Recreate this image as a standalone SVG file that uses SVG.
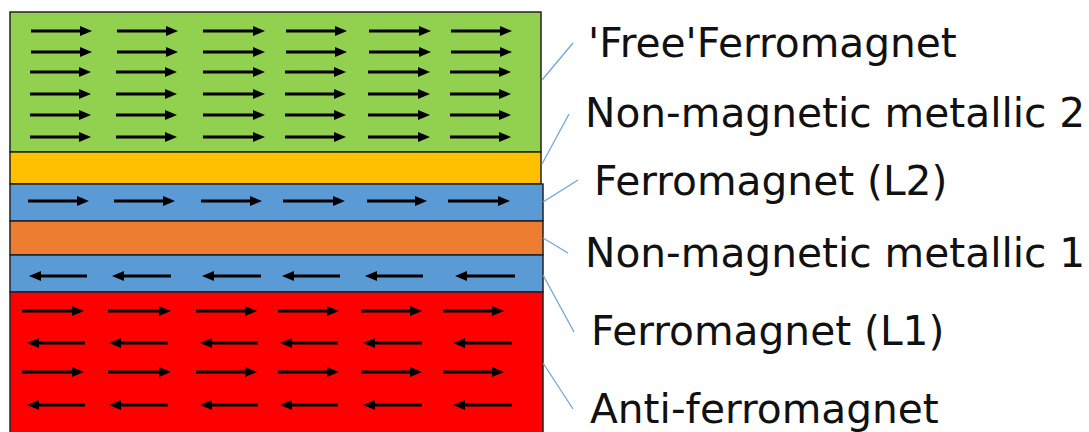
<svg xmlns="http://www.w3.org/2000/svg" width="1089" height="432" viewBox="0 0 1089 432">
<style>
.layer{stroke:#222;stroke-width:1.5}
.ar{stroke:#000;stroke-width:3;marker-end:url(#head)}
.lbl{font-family:"DejaVu Sans","Liberation Sans",sans-serif;font-size:40.7px;fill:#111}
.lead{stroke:#6FA6DC;stroke-width:1.3;fill:none}
</style>
<defs>
<marker id="head" markerUnits="userSpaceOnUse" markerWidth="13" markerHeight="11" viewBox="0 0 12 11" refX="3" refY="5.5" orient="auto">
<path d="M0,0.5 L12,5.5 L0,10.5 z" fill="#000"/>
</marker>
</defs>
<rect width="1089" height="432" fill="#fff"/>

<g id="free-ferromagnet">
<rect class="layer" x="10" y="12" width="531" height="140" fill="#92D050"/>
<g>
<line class="ar" x1="31" y1="31" x2="83" y2="31"/><line class="ar" x1="117" y1="31" x2="169" y2="31"/><line class="ar" x1="203" y1="31" x2="256" y2="31"/><line class="ar" x1="286" y1="31" x2="338" y2="31"/><line class="ar" x1="369" y1="31" x2="422" y2="31"/><line class="ar" x1="451" y1="31" x2="503" y2="31"/>
<line class="ar" x1="31" y1="52" x2="83" y2="52"/><line class="ar" x1="117" y1="52" x2="169" y2="52"/><line class="ar" x1="203" y1="52" x2="256" y2="52"/><line class="ar" x1="286" y1="52" x2="338" y2="52"/><line class="ar" x1="369" y1="52" x2="422" y2="52"/><line class="ar" x1="451" y1="52" x2="503" y2="52"/>
<line class="ar" x1="30" y1="72" x2="82" y2="72"/><line class="ar" x1="116" y1="72" x2="168" y2="72"/><line class="ar" x1="203" y1="72" x2="256" y2="72"/><line class="ar" x1="285" y1="72" x2="337" y2="72"/><line class="ar" x1="368" y1="72" x2="421" y2="72"/><line class="ar" x1="450" y1="72" x2="502" y2="72"/>
<line class="ar" x1="30" y1="94" x2="82" y2="94"/><line class="ar" x1="116" y1="94" x2="168" y2="94"/><line class="ar" x1="203" y1="94" x2="256" y2="94"/><line class="ar" x1="285" y1="94" x2="337" y2="94"/><line class="ar" x1="368" y1="94" x2="421" y2="94"/><line class="ar" x1="450" y1="94" x2="502" y2="94"/>
<line class="ar" x1="30" y1="115" x2="82" y2="115"/><line class="ar" x1="116" y1="115" x2="168" y2="115"/><line class="ar" x1="203" y1="115" x2="256" y2="115"/><line class="ar" x1="285" y1="115" x2="337" y2="115"/><line class="ar" x1="368" y1="115" x2="421" y2="115"/><line class="ar" x1="450" y1="115" x2="502" y2="115"/>
<line class="ar" x1="30" y1="137" x2="82" y2="137"/><line class="ar" x1="116" y1="137" x2="168" y2="137"/><line class="ar" x1="203" y1="137" x2="256" y2="137"/><line class="ar" x1="285" y1="137" x2="337" y2="137"/><line class="ar" x1="368" y1="137" x2="421" y2="137"/><line class="ar" x1="450" y1="137" x2="502" y2="137"/>
</g>
<text class="lbl" x="588" y="57">'Free'Ferromagnet</text>
</g>

<g id="non-magnetic-2">
<rect class="layer" x="10" y="152" width="531" height="32" fill="#FFC000"/>
<text class="lbl" x="585" y="127">Non-magnetic metallic 2</text>
</g>

<g id="ferromagnet-l2">
<rect class="layer" x="10" y="184" width="533" height="37" fill="#5B9BD5"/>
<line class="ar" x1="28" y1="201" x2="80" y2="201"/><line class="ar" x1="114" y1="201" x2="166" y2="201"/><line class="ar" x1="201" y1="201" x2="253" y2="201"/><line class="ar" x1="283" y1="201" x2="336" y2="201"/><line class="ar" x1="367" y1="201" x2="418" y2="201"/><line class="ar" x1="448" y1="201" x2="501" y2="201"/>
<text class="lbl" x="594" y="195">Ferromagnet (L2)</text>
</g>

<g id="non-magnetic-1">
<rect class="layer" x="10" y="221" width="533" height="34" fill="#ED7D31"/>
<text class="lbl" x="585" y="267">Non-magnetic metallic 1</text>
</g>

<g id="ferromagnet-l1">
<rect class="layer" x="10" y="255" width="533" height="37" fill="#5B9BD5"/>
<line class="ar" x1="87" y1="276" x2="38" y2="276"/><line class="ar" x1="171" y1="276" x2="121" y2="276"/><line class="ar" x1="261" y1="276" x2="211" y2="276"/><line class="ar" x1="340" y1="276" x2="291" y2="276"/><line class="ar" x1="423" y1="276" x2="374" y2="276"/><line class="ar" x1="515" y1="276" x2="464" y2="276"/>
<text class="lbl" x="591" y="345">Ferromagnet (L1)</text>
</g>

<g id="anti-ferromagnet">
<rect class="layer" x="10" y="292" width="533" height="142" fill="#FF0000"/>
<line class="ar" x1="22" y1="311" x2="75" y2="311"/><line class="ar" x1="108" y1="311" x2="162" y2="311"/><line class="ar" x1="196" y1="311" x2="248" y2="311"/><line class="ar" x1="278" y1="311" x2="330" y2="311"/><line class="ar" x1="361" y1="311" x2="413" y2="311"/><line class="ar" x1="443" y1="311" x2="495" y2="311"/>
<line class="ar" x1="85" y1="343" x2="36" y2="343"/><line class="ar" x1="168" y1="343" x2="118" y2="343"/><line class="ar" x1="258" y1="343" x2="209" y2="343"/><line class="ar" x1="338" y1="343" x2="289" y2="343"/><line class="ar" x1="422" y1="343" x2="372" y2="343"/><line class="ar" x1="512" y1="343" x2="462" y2="343"/>
<line class="ar" x1="22" y1="372" x2="75" y2="372"/><line class="ar" x1="108" y1="372" x2="162" y2="372"/><line class="ar" x1="196" y1="372" x2="248" y2="372"/><line class="ar" x1="278" y1="372" x2="330" y2="372"/><line class="ar" x1="361" y1="372" x2="413" y2="372"/><line class="ar" x1="443" y1="372" x2="495" y2="372"/>
<line class="ar" x1="85" y1="405" x2="36" y2="405"/><line class="ar" x1="168" y1="405" x2="118" y2="405"/><line class="ar" x1="258" y1="405" x2="209" y2="405"/><line class="ar" x1="338" y1="405" x2="289" y2="405"/><line class="ar" x1="422" y1="405" x2="372" y2="405"/><line class="ar" x1="512" y1="405" x2="462" y2="405"/>
<text class="lbl" x="590" y="423">Anti-ferromagnet</text>
</g>

<g id="connectors">
<line class="lead" x1="542" y1="80" x2="573" y2="43"/>
<line class="lead" x1="542" y1="164" x2="569" y2="114"/>
<line class="lead" x1="543" y1="202" x2="578" y2="180"/>
<line class="lead" x1="543" y1="238" x2="568" y2="253"/>
<line class="lead" x1="543" y1="275" x2="574" y2="332"/>
<line class="lead" x1="543" y1="363" x2="573" y2="409"/>
</g>
</svg>
